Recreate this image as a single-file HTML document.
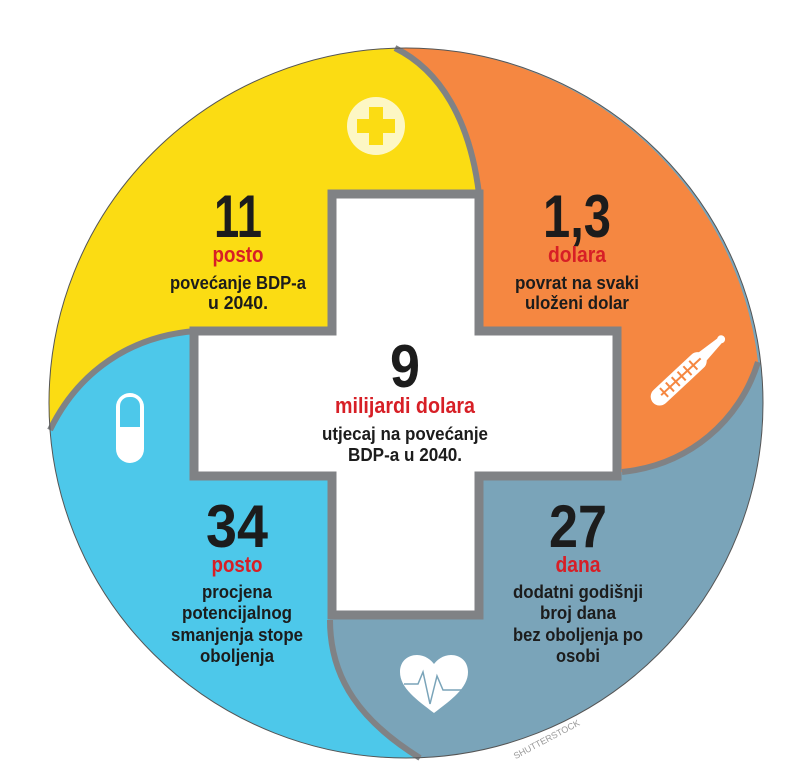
<!DOCTYPE html>
<html><head><meta charset="utf-8"><style>
html,body{margin:0;padding:0;background:#fff;}
svg{display:block}
text{font-family:"Liberation Sans Narrow","Liberation Sans",sans-serif;font-weight:bold;text-anchor:middle}
.big{font-size:60px;fill:#1c1c1c}
.red{font-size:22px;fill:#d71f26}
.t{font-size:18px;fill:#1c1c1c}
</style></head><body>
<svg width="800" height="769" viewBox="0 0 800 769" xmlns="http://www.w3.org/2000/svg">
<ellipse cx="406" cy="403" rx="357" ry="355" fill="#7aa4b9"/>
<!-- blue -->
<path d="M50,430 A357,355 0 0 0 420,758 C362,722 330,680 330,620 L400,400 L196,331 C130,336 78,372 50,430 Z" fill="#4dc8ea"/>
<!-- orange -->
<path d="M395,48 A357,355 0 0 1 758,362 C740,420 690,465 622,472 L410,400 L479,194 C470,120 440,70 395,48 Z" fill="#f58741"/>
<!-- yellow -->
<path d="M395,48 A357,355 0 0 0 50,430 C78,372 130,336 196,331 L400,400 L479,194 C470,120 440,70 395,48 Z" fill="#fbdc13"/>
<!-- dividers -->
<g fill="none" stroke="#808285" stroke-width="6">
<path d="M420,758 C362,722 330,680 330,620"/>
<path d="M758,362 C740,420 690,465 622,472"/>
<path d="M50,430 C78,372 130,336 196,331"/>
<path d="M479,194 C470,120 440,70 395,48"/>
</g>
<ellipse cx="406" cy="403" rx="357" ry="355" fill="none" stroke="#555" stroke-width="1"/>
<!-- cross -->
<path d="M332,194 L479,194 L479,331 L617,331 L617,476 L479,476 L479,615 L332,615 L332,476 L194,476 L194,331 L332,331 Z" fill="#fff" stroke="#808285" stroke-width="9"/>
<!-- plus icon -->
<circle cx="376" cy="126" r="29" fill="#fdf7c4"/>
<rect x="369" y="107" width="14" height="38" fill="#fbdc13"/>
<rect x="357" y="119" width="38" height="14" fill="#fbdc13"/>
<!-- pill -->
<rect x="116" y="393" width="28" height="70" rx="14" fill="#fff"/>
<rect x="120" y="397" width="20" height="30" rx="9" fill="#4dc8ea"/>
<rect x="120" y="418" width="20" height="9" fill="#4dc8ea"/>
<!-- thermometer -->
<g transform="translate(686,372) rotate(-43)">
<rect x="-45" y="-9" width="70" height="18" rx="9" fill="#fff"/>
<path d="M20,-6 L48,-3 L48,3 L20,6 Z" fill="#fff"/>
<circle cx="48" cy="0" r="4" fill="#fff"/>
<line x1="-34" y1="0" x2="20" y2="0" stroke="#f58741" stroke-width="2"/>
<g stroke="#f58741" stroke-width="2">
<line x1="-30" y1="-6" x2="-30" y2="6"/><line x1="-22" y1="-6" x2="-22" y2="6"/><line x1="-14" y1="-6" x2="-14" y2="6"/><line x1="-6" y1="-6" x2="-6" y2="6"/><line x1="2" y1="-6" x2="2" y2="6"/><line x1="10" y1="-6" x2="10" y2="6"/>
</g></g>
<!-- heart -->
<path d="M434,713 C417,700 400,688 400,672 C400,661 408,655 417,655 C425,655 431,660 434,664 C437,660 443,655 451,655 C460,655 468,661 468,672 C468,688 451,700 434,713 Z" fill="#fff"/>
<polyline points="404,684 418,684 423,672 430,704 437,676 443,690 462,690" fill="none" stroke="#7aa4b9" stroke-width="1.5"/>
<!-- texts -->
<text class="big" x="238" y="237" textLength="48" lengthAdjust="spacingAndGlyphs">11</text>
<text class="red" x="238" y="262" textLength="51" lengthAdjust="spacingAndGlyphs">posto</text>
<text class="t" x="238" y="289" textLength="136" lengthAdjust="spacingAndGlyphs">povećanje BDP-a</text>
<text class="t" x="238" y="309" textLength="60" lengthAdjust="spacingAndGlyphs">u 2040.</text>

<text class="big" x="577" y="237" textLength="68" lengthAdjust="spacingAndGlyphs">1,3</text>
<text class="red" x="577" y="262" textLength="58" lengthAdjust="spacingAndGlyphs">dolara</text>
<text class="t" x="577" y="289" textLength="124" lengthAdjust="spacingAndGlyphs">povrat na svaki</text>
<text class="t" x="577" y="309" textLength="104" lengthAdjust="spacingAndGlyphs">uloženi dolar</text>

<text class="big" x="405" y="387" textLength="30" lengthAdjust="spacingAndGlyphs">9</text>
<text class="red" x="405" y="413" textLength="140" lengthAdjust="spacingAndGlyphs">milijardi dolara</text>
<text class="t" x="405" y="440" textLength="166" lengthAdjust="spacingAndGlyphs">utjecaj na povećanje</text>
<text class="t" x="405" y="461" textLength="114" lengthAdjust="spacingAndGlyphs">BDP-a u 2040.</text>

<text class="big" x="237" y="547" textLength="62" lengthAdjust="spacingAndGlyphs">34</text>
<text class="red" x="237" y="572" textLength="51" lengthAdjust="spacingAndGlyphs">posto</text>
<text class="t" x="237" y="598" textLength="70" lengthAdjust="spacingAndGlyphs">procjena</text>
<text class="t" x="237" y="619" textLength="110" lengthAdjust="spacingAndGlyphs">potencijalnog</text>
<text class="t" x="237" y="641" textLength="132" lengthAdjust="spacingAndGlyphs">smanjenja stope</text>
<text class="t" x="237" y="662" textLength="74" lengthAdjust="spacingAndGlyphs">oboljenja</text>

<text class="big" x="578" y="547" textLength="58" lengthAdjust="spacingAndGlyphs">27</text>
<text class="red" x="578" y="572" textLength="45" lengthAdjust="spacingAndGlyphs">dana</text>
<text class="t" x="578" y="598" textLength="130" lengthAdjust="spacingAndGlyphs">dodatni godišnji</text>
<text class="t" x="578" y="619" textLength="76" lengthAdjust="spacingAndGlyphs">broj dana</text>
<text class="t" x="578" y="641" textLength="130" lengthAdjust="spacingAndGlyphs">bez oboljenja po</text>
<text class="t" x="578" y="662" textLength="44" lengthAdjust="spacingAndGlyphs">osobi</text>

<text x="548" y="742" transform="rotate(-28 548 742)" style="font-size:9px;font-weight:normal;fill:#999">SHUTTERSTOCK</text>
</svg>
</body></html>
